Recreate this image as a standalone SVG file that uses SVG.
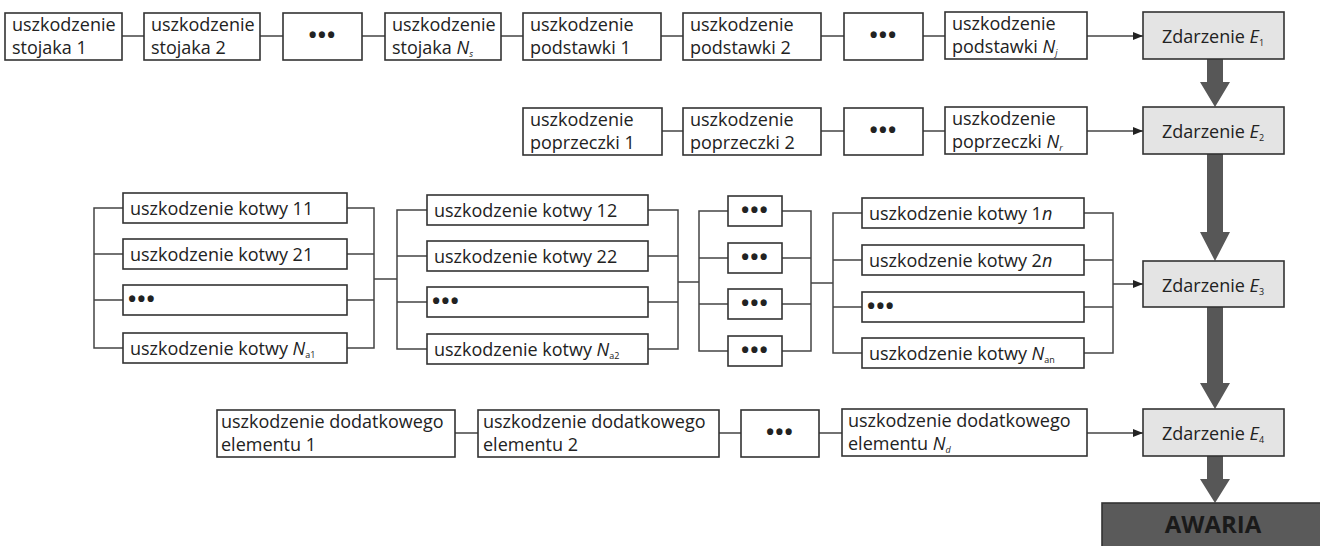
<svg xmlns="http://www.w3.org/2000/svg" width="1320" height="546" viewBox="0 0 1320 546">
<style>
text{font-family:"Open Sans","Noto Sans","Liberation Sans",sans-serif;font-size:18px;fill:#222}
.b{fill:#fff;stroke:#333;stroke-width:1.6}
.e{fill:#e4e4e4;stroke:#333;stroke-width:1.6}
.c{fill:none;stroke:#444;stroke-width:1.5}
.big{fill:#575757;stroke:none}
.d{font-size:22px;font-weight:bold;letter-spacing:1px}
.m{text-anchor:middle}
.i{font-style:italic}
.s{font-size:9px}
.aw{fill:#5a5a5a;stroke:#333;stroke-width:1.6}
.awt{font-size:24px;font-weight:bold;fill:#1a1a1a}
</style>
<defs>
<marker id="ah" viewBox="0 0 10 10" refX="10" refY="5" markerWidth="10" markerHeight="10" markerUnits="userSpaceOnUse" orient="auto">
<path d="M0,1 L10,5 L0,9 z" fill="#222"/>
</marker>
</defs>

<g id="connectors">
<!-- row 1 -->
<path class="c" d="M122,36H144M260,36H283M362,36H385M501,36H523M661,36H683M821,36H844M923,36H945"/>
<path class="c" d="M1087,36H1143" marker-end="url(#ah)"/>
<!-- row 2 -->
<path class="c" d="M662,131H683M821,131H844M923,131H945"/>
<path class="c" d="M1087,131H1143" marker-end="url(#ah)"/>
<!-- row 3 group A -->
<path class="c" d="M123,208H94V348H123M94,254H123M94,300H123"/>
<path class="c" d="M347,208H374V348H347M347,254H374M347,300H374M374,279H397"/>
<!-- group B -->
<path class="c" d="M427,210H397V349H427M397,256H427M397,302H427"/>
<path class="c" d="M648,210H678V349H648M648,256H678M648,302H678M678,282H699"/>
<!-- group C -->
<path class="c" d="M728,211H699V351H728M699,258H728M699,304H728"/>
<path class="c" d="M782,211H811V351H782M782,258H811M782,304H811M811,283H833"/>
<!-- group D -->
<path class="c" d="M862,213H833V353H862M833,260H862M833,307H862"/>
<path class="c" d="M1084,213H1113V353H1084M1084,260H1113M1084,307H1113"/>
<path class="c" d="M1113,284H1143" marker-end="url(#ah)"/>
<!-- row 4 -->
<path class="c" d="M455,433H478M719,433H741M819,433H842"/>
<path class="c" d="M1087,433H1143" marker-end="url(#ah)"/>
<!-- thick arrows -->
<polygon class="big" points="1207,59 1223,59 1223,82 1230,82 1215,107 1200,82 1207,82"/>
<polygon class="big" points="1207,154 1223,154 1223,232 1230,232 1215,261 1200,232 1207,232"/>
<polygon class="big" points="1207,307 1223,307 1223,383 1230,383 1215,409 1200,383 1207,383"/>
<polygon class="big" points="1207,456 1223,456 1223,479 1230,479 1215,503 1200,479 1207,479"/>
</g>

<!-- Row 1 -->
<g id="stojak1"><rect class="b" x="5" y="13" width="117" height="47"/><text x="12" y="31">uszkodzenie</text><text x="12" y="54">stojaka 1</text></g>
<g id="stojak2"><rect class="b" x="144" y="13" width="116" height="47"/><text x="151" y="31">uszkodzenie</text><text x="151" y="54">stojaka 2</text></g>
<g id="stojakDots"><rect class="b" x="283" y="13" width="79" height="47"/><text class="d m" x="322.5" y="43">•••</text></g>
<g id="stojakN"><rect class="b" x="385" y="13" width="116" height="47"/><text x="392" y="31">uszkodzenie</text><text x="392" y="54">stojaka <tspan class="i">N</tspan><tspan class="s i" dy="3">s</tspan></text></g>
<g id="podstawka1"><rect class="b" x="523" y="13" width="138" height="47"/><text x="530" y="31">uszkodzenie</text><text x="530" y="54">podstawki 1</text></g>
<g id="podstawka2"><rect class="b" x="683" y="13" width="138" height="47"/><text x="690" y="31">uszkodzenie</text><text x="690" y="54">podstawki 2</text></g>
<g id="podstawkaDots"><rect class="b" x="844" y="13" width="79" height="47"/><text class="d m" x="883.5" y="43">•••</text></g>
<g id="podstawkaN"><rect class="b" x="945" y="12" width="142" height="47"/><text x="952" y="30">uszkodzenie</text><text x="952" y="53">podstawki <tspan class="i">N</tspan><tspan class="s i" dy="3">j</tspan></text></g>
<g id="E1"><rect class="e" x="1143" y="12" width="141" height="47"/><text x="1162" y="43">Zdarzenie <tspan class="i">E</tspan><tspan class="s" dy="3">1</tspan></text></g>

<!-- Row 2 -->
<g id="poprzeczka1"><rect class="b" x="523" y="108" width="139" height="47"/><text x="530" y="126">uszkodzenie</text><text x="530" y="149">poprzeczki 1</text></g>
<g id="poprzeczka2"><rect class="b" x="683" y="108" width="138" height="47"/><text x="690" y="126">uszkodzenie</text><text x="690" y="149">poprzeczki 2</text></g>
<g id="poprzeczkaDots"><rect class="b" x="844" y="108" width="79" height="47"/><text class="d m" x="883.5" y="138">•••</text></g>
<g id="poprzeczkaN"><rect class="b" x="945" y="107" width="142" height="47"/><text x="952" y="125">uszkodzenie</text><text x="952" y="148">poprzeczki <tspan class="i">N</tspan><tspan class="s i" dy="3">r</tspan></text></g>
<g id="E2"><rect class="e" x="1143" y="107" width="141" height="47"/><text x="1162" y="138">Zdarzenie <tspan class="i">E</tspan><tspan class="s" dy="3">2</tspan></text></g>

<!-- Row 3 group A -->
<g id="kotwa11"><rect class="b" x="123" y="193" width="224" height="30"/><text x="130" y="215">uszkodzenie kotwy 11</text></g>
<g id="kotwa21"><rect class="b" x="123" y="239" width="224" height="30"/><text x="130" y="261">uszkodzenie kotwy 21</text></g>
<g id="kotwaA"><rect class="b" x="123" y="285" width="224" height="30"/><text class="d" x="128" y="307">•••</text></g>
<g id="kotwaNa1"><rect class="b" x="123" y="333" width="224" height="30"/><text x="130" y="355">uszkodzenie kotwy  <tspan class="i">N</tspan><tspan class="s" dy="3">a1</tspan></text></g>
<!-- group B -->
<g id="kotwa12"><rect class="b" x="427" y="195" width="221" height="30"/><text x="434" y="217">uszkodzenie kotwy 12</text></g>
<g id="kotwa22"><rect class="b" x="427" y="241" width="221" height="30"/><text x="434" y="263">uszkodzenie kotwy 22</text></g>
<g id="kotwaB"><rect class="b" x="427" y="287" width="221" height="30"/><text class="d" x="432" y="309">•••</text></g>
<g id="kotwaNa2"><rect class="b" x="427" y="334" width="221" height="30"/><text x="434" y="356">uszkodzenie kotwy  <tspan class="i">N</tspan><tspan class="s" dy="3">a2</tspan></text></g>
<!-- group C -->
<g id="dotsC1"><rect class="b" x="728" y="196" width="54" height="30"/><text class="d m" x="755" y="218">•••</text></g>
<g id="dotsC2"><rect class="b" x="728" y="243" width="54" height="30"/><text class="d m" x="755" y="265">•••</text></g>
<g id="dotsC3"><rect class="b" x="728" y="289" width="54" height="30"/><text class="d m" x="755" y="311">•••</text></g>
<g id="dotsC4"><rect class="b" x="728" y="336" width="54" height="30"/><text class="d m" x="755" y="358">•••</text></g>
<!-- group D -->
<g id="kotwa1n"><rect class="b" x="862" y="198" width="222" height="30"/><text x="869" y="220">uszkodzenie kotwy 1<tspan class="i">n</tspan></text></g>
<g id="kotwa2n"><rect class="b" x="862" y="245" width="222" height="30"/><text x="869" y="267">uszkodzenie kotwy 2<tspan class="i">n</tspan></text></g>
<g id="kotwaD"><rect class="b" x="862" y="292" width="222" height="30"/><text class="d" x="867" y="314">•••</text></g>
<g id="kotwaNan"><rect class="b" x="862" y="338" width="222" height="30"/><text x="869" y="360">uszkodzenie kotwy  <tspan class="i">N</tspan><tspan class="s" dy="3">an</tspan></text></g>
<g id="E3"><rect class="e" x="1143" y="261" width="141" height="46"/><text x="1162" y="292">Zdarzenie <tspan class="i">E</tspan><tspan class="s" dy="3">3</tspan></text></g>

<!-- Row 4 -->
<g id="dodatkowy1"><rect class="b" x="217" y="410" width="238" height="47"/><text x="221" y="428">uszkodzenie dodatkowego</text><text x="221" y="451">elementu 1</text></g>
<g id="dodatkowy2"><rect class="b" x="478" y="410" width="241" height="47"/><text x="483" y="428">uszkodzenie dodatkowego</text><text x="483" y="451">elementu 2</text></g>
<g id="dodatkowyDots"><rect class="b" x="741" y="410" width="78" height="47"/><text class="d m" x="780" y="440">•••</text></g>
<g id="dodatkowyN"><rect class="b" x="842" y="409" width="245" height="47"/><text x="848" y="427">uszkodzenie dodatkowego</text><text x="848" y="450">elementu <tspan class="i">N</tspan><tspan class="s i" dy="3">d</tspan></text></g>
<g id="E4"><rect class="e" x="1143" y="409" width="141" height="47"/><text x="1162" y="440">Zdarzenie <tspan class="i">E</tspan><tspan class="s" dy="3">4</tspan></text></g>

<g id="awaria"><rect class="aw" x="1102" y="503" width="230" height="50"/><text class="awt m" x="1213" y="533">AWARIA</text></g>
</svg>
